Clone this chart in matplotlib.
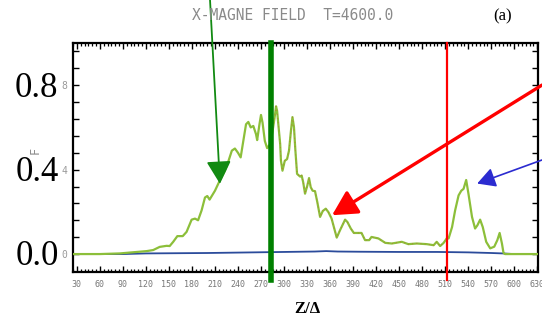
import numpy as np
import matplotlib
matplotlib.use("Agg")
import matplotlib.pyplot as plt
import matplotlib.transforms as mtransforms
from matplotlib.ticker import MultipleLocator, FixedLocator, FixedFormatter

# Field profile along z (green), with the reflected part (red overlay) and the y-component (blue)
z_field = [25, 60, 86, 121, 129.5, 138, 147, 151, 155.6, 161, 168, 173, 179.6, 184, 188,
           192.6, 197, 200, 203, 210, 216.5, 223, 227, 232, 236, 240, 243.5, 247, 250.5,
           253.5, 256.6, 260, 263.5, 265, 268, 270, 272, 275, 278, 282, 285, 288, 289.6,
           291, 292.6, 295, 296, 298, 301, 304, 306.5, 309, 311, 313, 314.7, 317, 321, 323,
           325, 327.4, 330.4, 332.6, 334.8, 337.3, 340.4, 343.4, 347, 350.5, 354.4, 357.8,
           362, 368.7, 373, 379.6, 382.6, 387, 391, 401, 405.6, 411, 414, 423, 432, 440.5,
           453.5, 462, 473, 486, 495, 499, 503.5, 508, 512, 514.5, 519, 523, 527.5, 531,
           534, 537.4, 540.4, 545, 549, 552, 555.6, 559, 563.5, 568.7, 574, 578, 581, 584,
           586, 588, 631]
f_field = [0.0, 0.0, 0.003, 0.014, 0.019, 0.034, 0.039, 0.038, 0.058, 0.085, 0.085, 0.105,
           0.163, 0.168, 0.16, 0.207, 0.268, 0.275, 0.258, 0.30, 0.35, 0.395, 0.434, 0.49,
           0.50, 0.48, 0.458, 0.537, 0.615, 0.626, 0.60, 0.607, 0.568, 0.54, 0.615, 0.659,
           0.623, 0.536, 0.502, 0.521, 0.58, 0.654, 0.70, 0.678, 0.615, 0.521, 0.442, 0.395,
           0.442, 0.45, 0.49, 0.583, 0.649, 0.60, 0.497, 0.38, 0.367, 0.372, 0.34, 0.286,
           0.325, 0.36, 0.317, 0.30, 0.298, 0.246, 0.176, 0.204, 0.215, 0.199, 0.168, 0.078,
           0.113, 0.163, 0.152, 0.121, 0.10, 0.10, 0.066, 0.066, 0.081, 0.074, 0.053, 0.05,
           0.058, 0.047, 0.05, 0.047, 0.042, 0.058, 0.038, 0.053, 0.074, 0.074, 0.128, 0.207,
           0.278, 0.30, 0.309, 0.351, 0.285, 0.176, 0.121, 0.136, 0.163, 0.128, 0.058, 0.027,
           0.035, 0.066, 0.10, 0.05, 0.006, 0.0, 0.0]

z_reflect = (283, 510)

z_perp = [25, 90, 120, 200, 260, 300, 340, 355, 370, 400, 450, 500, 540, 570, 585, 600, 631]
f_perp = [0.0, 0.0, 0.003, 0.005, 0.008, 0.010, 0.012, 0.014, 0.012, 0.011, 0.010, 0.010,
          0.008, 0.005, 0.003, 0.0, 0.0]

# Vertical markers (probe positions)
marker_z = [283, 512]
marker_colors = ["#008000", "#ff0000"]
marker_widths = [4.0, 1.6]

# Tick values and labels
x_ticks = list(range(30, 631, 30))
y_ticks = [round(0.08 * i, 2) for i in range(13)]
y_small_labels = {0.0: "0", 0.4: "4", 0.8: "8"}
y_big_labels = [0.0, 0.4, 0.8]

# Arrow tips (data) and tails (figure fraction)
arrow_tips = [(216.5, 0.333), (362.6, 0.184), (551.7, 0.334)]
arrow_tails = [(0.3875, 1.0), (1.0, 0.735), (1.0, 0.5016)]

W, H = 542, 321
fig = plt.figure(figsize=(W / 100, H / 100), dpi=100)
fig.patch.set_facecolor("white")
ax = fig.add_axes([73 / W, 49 / H, 465 / W, 229 / H])

ax.set_xlim(25, 631)
ax.set_ylim(-0.085, 1.0)

zf = np.array(z_field)
ff = np.array(f_field)

ax.plot(z_perp, f_perp, color="#2b4b9b", lw=1.3, zorder=2)
ax.plot(zf, ff, color="#8cbf3a", lw=1.6, zorder=3, solid_joinstyle="round")
mask = (zf >= z_reflect[0]) & (zf <= z_reflect[1])
ax.plot(zf[mask], ff[mask], color="#e03020", lw=0.6, ls=(0, (1, 4)), alpha=0.5, zorder=4)

for zm, c, w in zip(marker_z, marker_colors, marker_widths):
    ax.axvline(zm, ymin=-0.035, ymax=1.0, color=c, lw=w, zorder=5, clip_on=False)

# Frame and ticks
for s in ax.spines.values():
    s.set_linewidth(1.6)
    s.set_color("black")

ax.xaxis.set_major_locator(FixedLocator(x_ticks))
ax.xaxis.set_minor_locator(MultipleLocator(5))
ax.set_xticklabels([str(t) for t in x_ticks])
ax.tick_params(axis="x", which="major", direction="in", length=4.5, width=1.0,
               top=True, bottom=True, pad=6, labelsize=6, labelcolor="#777777")
ax.tick_params(axis="x", which="minor", direction="in", length=2.2, width=0.9,
               top=True, bottom=True)
for lab in ax.get_xticklabels():
    lab.set_family("DejaVu Sans Mono")

ax.yaxis.set_major_locator(FixedLocator(y_ticks))
ax.yaxis.set_major_formatter(FixedFormatter([y_small_labels.get(round(v, 2), "") for v in y_ticks]))
ax.tick_params(axis="y", which="major", direction="in", length=4, width=1.0,
               left=True, right=True, pad=4, labelsize=7, labelcolor="#999999")
for lab in ax.get_yticklabels():
    lab.set_family("DejaVu Sans Mono")

# Large serif value labels alongside the axis
trans = mtransforms.blended_transform_factory(ax.transAxes, ax.transData)
for v in y_big_labels:
    ax.text(-0.031, v - 0.054, f"{v:.1f}", transform=trans, ha="right", va="baseline",
            family="Liberation Serif", fontsize=25, color="black")

ax.set_ylabel("F", family="DejaVu Sans Mono", fontsize=8.5, color="#888888")
ax.yaxis.set_label_coords(-0.068, 0.533)
ax.set_xlabel("Z/Δ", family="Liberation Serif", fontweight="bold", fontsize=12, va="center")
ax.xaxis.set_label_coords(0.503, -0.16)

fig.text(293 / W, 1 - 15 / H, "X-MAGNE FIELD  T=4600.0", family="DejaVu Sans Mono",
         fontsize=10.5, color="#8a8a8a", ha="center", va="center")
fig.text(503 / W, 1 - 16 / H, "(a)", family="Liberation Serif", fontsize=12,
         ha="center", va="center")

# Arrows pointing at features of the profile
arrow_styles = [
    dict(color="#128a12", lw=1.3, style="-|>,head_length=0.7,head_width=0.38"),
    dict(color="#ff0000", lw=2.4, style="-|>,head_length=0.75,head_width=0.4"),
    dict(color="#2b2bd0", lw=1.2, style="-|>,head_length=0.55,head_width=0.3"),
]
for tip, tail, st in zip(arrow_tips, arrow_tails, arrow_styles):
    ax.annotate("", xy=tip, xycoords="data", xytext=tail, textcoords="figure fraction",
                annotation_clip=False,
                arrowprops=dict(arrowstyle=st["style"], color=st["color"], lw=st["lw"],
                                shrinkA=0, shrinkB=0, mutation_scale=20),
                zorder=6)

fig.savefig("out.png", dpi=100, facecolor="white")
